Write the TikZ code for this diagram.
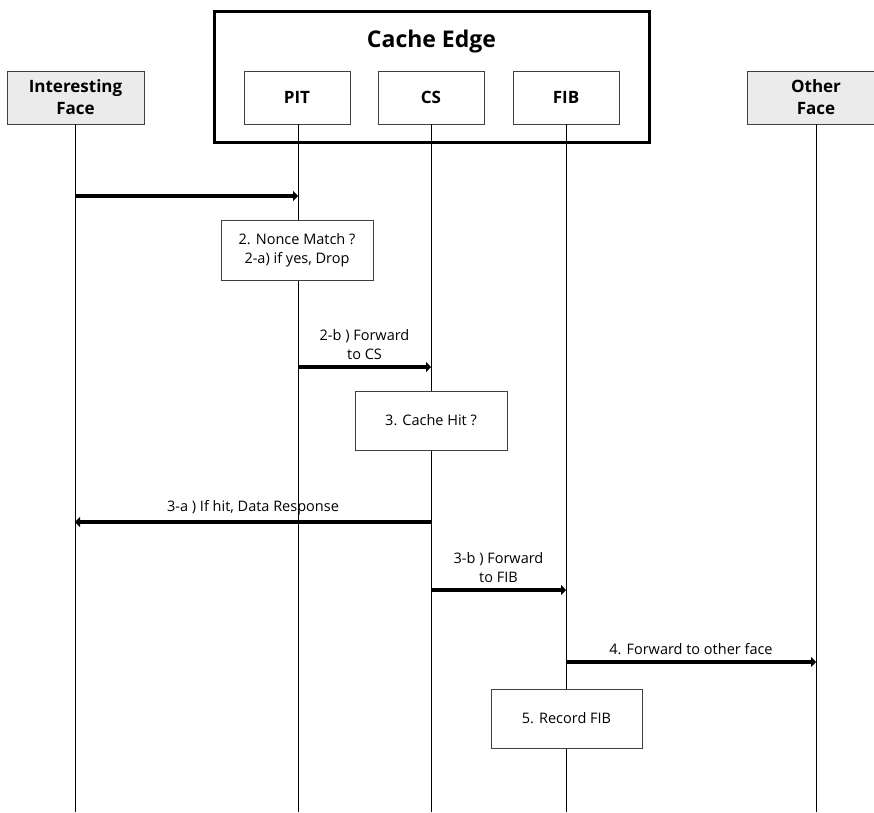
\documentclass[tikz,border=0pt]{standalone}
\usepackage{fontspec}
\setmainfont{Open Sans}
\usetikzlibrary{arrows.meta}
\begin{document}
\begin{tikzpicture}[x=1pt,y=-1pt,
  header/.style={draw=black!75, line width=0.9pt, fill=white, minimum width=106pt,
    minimum height=53pt, inner sep=0pt, align=center,
    font=\fontsize{17}{22}\selectfont\bfseries},
  face/.style={header, fill=black!8, minimum width=137pt},
  actbox/.style={draw=black!75, line width=0.9pt, fill=white, minimum width=152pt,
    minimum height=59pt, inner sep=0pt, align=center,
    font=\fontsize{14.5}{19}\selectfont},
  lifeline/.style={line width=0.8pt},
  msg/.style={line width=4.8pt, -{Triangle[length=5pt,width=10pt]}},
  msglabel/.style={above=5pt, inner sep=0pt, align=center,
    font=\fontsize{14.5}{19}\selectfont}
]
\useasboundingbox (0,0) rectangle (874,812);
\clip (0,0) rectangle (874,812);

% container for the edge node's tables
\node[draw, line width=3pt, minimum width=435pt, minimum height=131pt, inner sep=0pt]
  (edge) at (431.5,76.5) {};
\node[font=\fontsize{23}{27}\selectfont\bfseries] (edgetitle) at (431.5,42) {Cache Edge};

% participants
\node[face] (iface) at (75.5,97.5) {Interesting\\Face};
\node[header] (pit) at (297,97.5) {PIT};
\node[header] (cs) at (431,97.5) {CS};
\node[header] (fib) at (566,97.5) {FIB};
\node[face, minimum width=138pt] (oface) at (816,97.5) {Other\\Face};

% lifelines
\coordinate (iface-end) at (75,812);
\coordinate (pit-end) at (298,812);
\coordinate (cs-end) at (431,812);
\coordinate (fib-end) at (566,812);
\coordinate (oface-end) at (816,812);
\draw[lifeline] (iface.south -| iface-end) -- (iface-end);
\draw[lifeline] (pit.south -| pit-end) -- (pit-end);
\draw[lifeline] (cs.south) -- (cs-end);
\draw[lifeline] (fib.south) -- (fib-end);
\draw[lifeline] (oface.south) -- (oface-end);

% message end points
\coordinate (m1a) at (75,196);  \coordinate (m1b) at (298,196);
\coordinate (m2a) at (298,367); \coordinate (m2b) at (431,367);
\coordinate (m3a) at (431,522); \coordinate (m3b) at (75,522);
\coordinate (m4a) at (431,590); \coordinate (m4b) at (566,590);
\coordinate (m5a) at (566,662); \coordinate (m5b) at (816,662);

% messages
\draw[msg] (m1a) -- (m1b);
\draw[msg] (m2a) -- node[msglabel] (l2) {2-b ) Forward\\to CS} (m2b);
\draw[msg] (m3a) -- node[msglabel] (l3) {3-a ) If hit, Data Response} (m3b);
\draw[msg] (m4a) -- node[msglabel] (l4) {3-b ) Forward\\to FIB} (m4b);
\draw[msg] (m5a) -- node[msglabel] (l5) {4. Forward to other face} (m5b);

% processing steps
\node[actbox, minimum height=60pt] (nonce) at (297,250) {2. Nonce Match ?\\2-a) if yes, Drop};
\node[actbox] (hit) at (431,420.5) {3. Cache Hit ?};
\node[actbox, minimum width=151pt] (record) at (566.5,718.5) {5. Record FIB};
\end{tikzpicture}
\end{document}
